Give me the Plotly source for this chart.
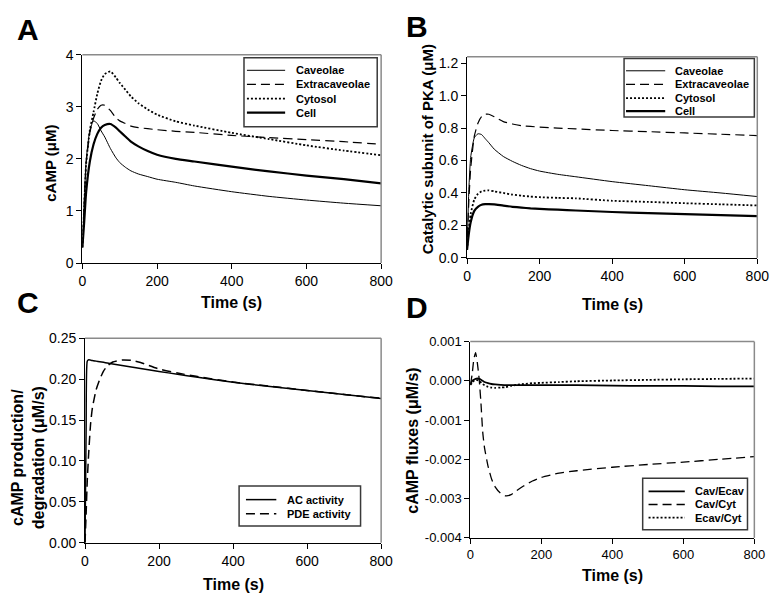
import plotly.graph_objects as go

# ------------------------------------------------------------
# data
# ------------------------------------------------------------

# Panel A: cAMP (uM)
t_a = [0, 5, 10, 20, 30, 40, 50, 60, 75, 90, 100, 115, 130, 150, 175, 200, 250, 300, 400, 500, 600, 700, 800]
a_caveolae = [0.30, 1.20, 1.95, 2.55, 2.73, 2.68, 2.54, 2.42, 2.20, 2.02, 1.93, 1.84, 1.77, 1.71, 1.66, 1.61, 1.55, 1.48, 1.37, 1.28, 1.21, 1.15, 1.10]
a_extracav = [0.30, 1.10, 1.90, 2.50, 2.78, 2.95, 3.03, 3.03, 2.93, 2.79, 2.73, 2.68, 2.63, 2.60, 2.58, 2.56, 2.53, 2.51, 2.45, 2.41, 2.37, 2.33, 2.28]
a_cytosol = [0.30, 1.10, 1.90, 2.55, 2.90, 3.25, 3.50, 3.63, 3.68, 3.56, 3.46, 3.33, 3.20, 3.07, 2.95, 2.85, 2.72, 2.64, 2.50, 2.38, 2.26, 2.16, 2.07]
a_cell = [0.30, 0.80, 1.35, 1.95, 2.28, 2.48, 2.60, 2.65, 2.67, 2.60, 2.53, 2.43, 2.33, 2.24, 2.15, 2.08, 2.00, 1.95, 1.85, 1.76, 1.68, 1.61, 1.53]

# Panel B: catalytic subunit of PKA (uM)
t_b = [0, 5, 10, 20, 30, 40, 50, 60, 75, 100, 125, 150, 175, 200, 250, 300, 400, 500, 600, 700, 800]
b_caveolae = [0.05, 0.42, 0.62, 0.74, 0.765, 0.76, 0.735, 0.71, 0.67, 0.625, 0.595, 0.57, 0.55, 0.535, 0.515, 0.50, 0.47, 0.445, 0.42, 0.40, 0.378]
b_extracav = [0.05, 0.35, 0.55, 0.75, 0.83, 0.87, 0.885, 0.885, 0.87, 0.84, 0.825, 0.815, 0.81, 0.806, 0.80, 0.795, 0.785, 0.778, 0.77, 0.762, 0.754]
b_cytosol = [0.05, 0.18, 0.27, 0.36, 0.395, 0.41, 0.415, 0.416, 0.41, 0.40, 0.39, 0.383, 0.378, 0.374, 0.37, 0.367, 0.352, 0.345, 0.337, 0.33, 0.323]
b_cell = [0.05, 0.15, 0.22, 0.29, 0.315, 0.327, 0.331, 0.332, 0.33, 0.322, 0.315, 0.31, 0.305, 0.302, 0.297, 0.292, 0.283, 0.276, 0.27, 0.264, 0.258]

# Panel C: cAMP production / degradation (uM/s)
t_c = [0, 3, 6, 10, 15, 20, 30, 40, 50, 60, 75, 100, 125, 150, 200, 250, 300, 400, 500, 600, 700, 800]
c_ac = [0.0, 0.14, 0.222, 0.2238, 0.2233, 0.2228, 0.2221, 0.2213, 0.2206, 0.2198, 0.2187, 0.2168, 0.2149, 0.2131, 0.2095, 0.2060, 0.2027, 0.1962, 0.1912, 0.1862, 0.1813, 0.1765]
c_pde = [0.0, 0.035, 0.075, 0.11, 0.145, 0.165, 0.187, 0.20, 0.21, 0.216, 0.221, 0.2235, 0.223, 0.2205, 0.2125, 0.2075, 0.2035, 0.1965, 0.1913, 0.1863, 0.1814, 0.1766]

# Panel D: cAMP fluxes (uM/s)
t_d = [0, 5, 10, 15, 20, 25, 30, 35, 40, 50, 60, 70, 85, 100, 115, 130, 150, 175, 200, 250, 300, 400, 500, 600, 700, 800]
d_cav_ecav = [-0.00010, 0.0, 0.00003, 0.00005, 0.00006, 0.00005, 0.00003, 0.0, -0.00003, -0.00006, -0.00008, -0.00009, -0.00010, -0.00011,
              -0.00011, -0.00011, -0.00011, -0.00011, -0.00011, -0.00011, -0.00011, -0.00012, -0.00013, -0.00013, -0.00014, -0.00014]
d_cav_cyt = [-0.00010, 0.00015, 0.00055, 0.00072, 0.00045, 0.00005, -0.00055, -0.00130, -0.00170, -0.00217, -0.00250, -0.00270, -0.00286, -0.00293,
             -0.00290, -0.00280, -0.00268, -0.00255, -0.00246, -0.00235, -0.00229, -0.00220, -0.00213, -0.00207, -0.00200, -0.00193]
d_ecav_cyt = [-0.00010, -0.00005, 0.0, 0.00002, 0.00002, 0.0, -0.00004, -0.00008, -0.00011, -0.00015, -0.00017, -0.00018, -0.00017, -0.00016,
              -0.00013, -0.00010, -0.00008, -0.00006, -0.00005, -0.00003, -0.00001, 0.00001, 0.000025, 0.00004, 0.00005, 0.00006]

x_ticks = [0, 200, 400, 600, 800]
a_yticks = [0, 1, 2, 3, 4]
b_yticks = [0.0, 0.2, 0.4, 0.6, 0.8, 1.0, 1.2]
c_yticks = [0.0, 0.05, 0.10, 0.15, 0.20, 0.25]
d_yticks = [0.001, 0.0, -0.001, -0.002, -0.003, -0.004]
d_yticktext = ["0.001", "0.000", "-0.001", "-0.002", "-0.003", "-0.004"]

# ------------------------------------------------------------
# figure
# ------------------------------------------------------------
W, H = 783, 604
FONT = "Arial, Liberation Sans, sans-serif"


def px(x):
    return x / W


def py(y):
    return 1 - y / H


thin = dict(color="black", width=1)
thick = dict(color="black", width=2.2)
dashed = dict(color="black", width=1.2, dash="9px,5px")
dotted = dict(color="black", width=1.8, dash="2px,2px")

panels = [
    dict(key="", box=(80, 48, 385, 262), yrange=[0, 4], yticks=a_yticks, yfmt=".0f", tsize=14,
         t=t_a, series=[(a_caveolae, "Caveolae", thin), (a_extracav, "Extracaveolae", dashed),
                        (a_cytosol, "Cytosol", dotted), (a_cell, "Cell", thick)],
         letter=("A", 24, 22), xtitle_y=303, ytitle=("cAMP (μM)", 48, 160, 15),
         legend=dict(box=(245, 51, 381, 122), rows=[64, 78.5, 93, 107.5], sx=(248, 287), tx=296)),
    dict(key="2", box=(472.7, 50, 769, 256.7), yrange=[0, 1.24], yticks=b_yticks, yfmt=".1f", tsize=14,
         t=t_b, series=[(b_caveolae, "Caveolae", thin), (b_extracav, "Extracaveolae", dashed),
                        (b_cytosol, "Cytosol", dotted), (b_cell, "Cell", thick)],
         letter=("B", 422, 19), xtitle_y=305, ytitle=("Catalytic subunit of PKA (μM)", 432, 145, 15),
         legend=dict(box=(633, 52, 766, 112), rows=[64.5, 78.5, 92.5, 106], sx=(635, 675), tx=683)),
    dict(key="3", box=(82.7, 339.3, 385, 549.3), yrange=[0, 0.25], yticks=c_yticks, yfmt=".2f", tsize=14,
         t=t_c, series=[(c_ac, "AC activity", dict(color="black", width=1.5)),
                        (c_pde, "PDE activity", dict(color="black", width=1.5, dash="9px,5px"))],
         letter=("C", 24, 303), xtitle_y=592, ytitle=("cAMP production/<br>degradation (μM/s)", 24, 462, 16),
         legend=dict(box=(240, 491, 364, 532), rows=[505, 519.5], sx=(247, 278), tx=287)),
    dict(key="4", box=(476, 342.7, 766, 544.3), yrange=[-0.004, 0.001], yticks=d_yticks, yfmt=None, tsize=13,
         t=t_d, series=[(d_cav_ecav, "Cav/Ecav", dict(color="black", width=1.8)),
                        (d_cav_cyt, "Cav/Cyt", dict(color="black", width=1.3, dash="9px,5px")),
                        (d_ecav_cyt, "Ecav/Cyt", dotted)],
         letter=("D", 422, 308), xtitle_y=583, ytitle=("cAMP fluxes (μM/s)", 417, 444, 16),
         legend=dict(box=(652, 483, 759, 536), rows=[496.5, 510, 523.5], sx=(658, 695), tx=703)),
]

fig = go.Figure()
shapes, annotations = [], []

for p in panels:
    k = p["key"]
    x0, y0, x1, y1 = p["box"]
    xa, ya = "x" + k, "y" + k

    for vals, name, style in p["series"]:
        fig.add_trace(go.Scatter(x=p["t"], y=vals, name=name, mode="lines",
                                 line=dict(shape="spline", smoothing=0.5, **style),
                                 xaxis=xa, yaxis=ya, showlegend=False))

    axis_common = dict(showline=True, linecolor="black", linewidth=1, mirror=False,
                       ticks="outside", ticklen=5, tickcolor="black", showgrid=False,
                       zeroline=False, tickfont=dict(family=FONT, size=p["tsize"], color="black"))
    xaxis = dict(domain=[px(x0), px(x1)], range=[0, 800], tickvals=x_ticks,
                 anchor=ya, **axis_common)
    yaxis = dict(domain=[py(y1), py(y0)], range=p["yrange"], tickvals=p["yticks"],
                 anchor=xa, **axis_common)
    if p["yfmt"]:
        yaxis["tickformat"] = p["yfmt"]
    else:
        yaxis["ticktext"] = d_yticktext
    fig.update_layout(**{"xaxis" + k: xaxis, "yaxis" + k: yaxis})

    # grey top / right frame
    shapes.append(dict(type="line", xref="paper", yref="paper", x0=px(x0), x1=px(x1),
                       y0=py(y0), y1=py(y0), line=dict(color="#8a8a8a", width=1.5)))
    shapes.append(dict(type="line", xref="paper", yref="paper", x0=px(x1), x1=px(x1),
                       y0=py(y0), y1=py(y1), line=dict(color="#8a8a8a", width=1.5)))

    # panel letter
    letter, lx, ly = p["letter"]
    annotations.append(dict(text="<b>%s</b>" % letter, x=px(lx), y=py(ly), xref="paper", yref="paper",
                            showarrow=False, xanchor="center", yanchor="middle",
                            font=dict(family=FONT, size=30, color="black")))
    # axis titles
    annotations.append(dict(text="<b>Time (s)</b>", x=px((x0 + x1) / 2), y=py(p["xtitle_y"]),
                            xref="paper", yref="paper", showarrow=False,
                            xanchor="center", yanchor="middle",
                            font=dict(family=FONT, size=16, color="black")))
    ttext, tx, ty, tsz = p["ytitle"]
    annotations.append(dict(text="<b>%s</b>" % ttext.replace("<br>", "</b><br><b>"), x=px(tx), y=py(ty),
                            xref="paper", yref="paper", showarrow=False, textangle=-90,
                            xanchor="center", yanchor="middle",
                            font=dict(family=FONT, size=tsz, color="black")))

    # legend box drawn by hand
    lg = p["legend"]
    bx0, by0, bx1, by1 = lg["box"]
    shapes.append(dict(type="rect", xref="paper", yref="paper", x0=px(bx0), x1=px(bx1),
                       y0=py(by1), y1=py(by0), fillcolor="white",
                       line=dict(color="#3a3a3a", width=1.5)))
    for (vals, name, style), ry in zip(p["series"], lg["rows"]):
        shapes.append(dict(type="line", xref="paper", yref="paper", x0=px(lg["sx"][0]),
                           x1=px(lg["sx"][1]), y0=py(ry), y1=py(ry), line=style))
        annotations.append(dict(text="<b>%s</b>" % name, x=px(lg["tx"]), y=py(ry),
                                xref="paper", yref="paper", showarrow=False,
                                xanchor="left", yanchor="middle",
                                font=dict(family=FONT, size=11, color="black")))

fig.update_layout(
    width=W, height=H,
    margin=dict(l=0, r=0, t=0, b=0),
    paper_bgcolor="white",
    plot_bgcolor="white",
    font=dict(family=FONT, color="black"),
    shapes=shapes,
    annotations=annotations,
    showlegend=False,
)

# drop the page's default 8px body margin so the figure sits at 0,0
fig.write_html("out.html", config={"displayModeBar": False},
               post_script="document.body.style.margin='0';")
